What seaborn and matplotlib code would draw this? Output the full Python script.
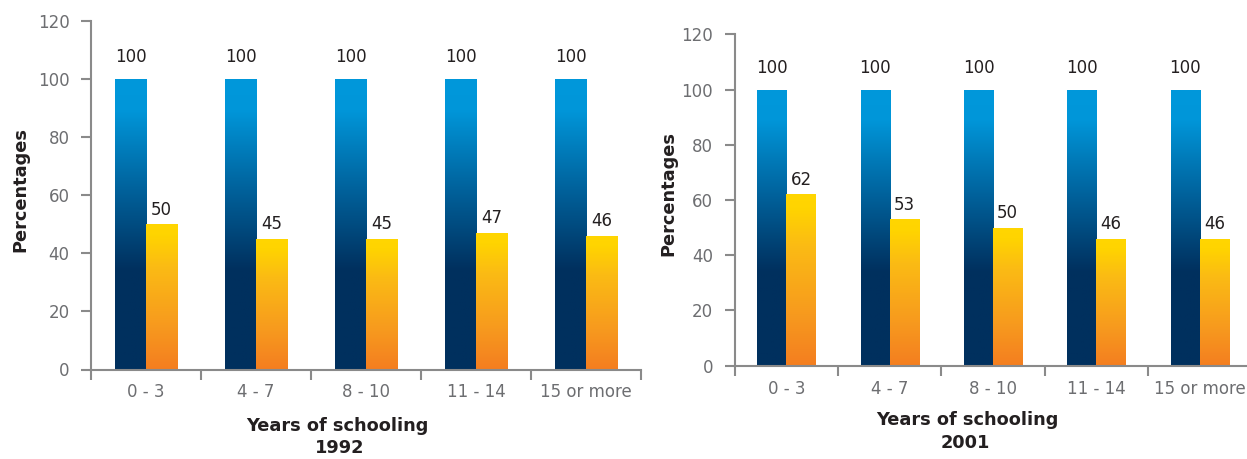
import numpy as np
import pandas as pd
import matplotlib
matplotlib.use("Agg")
import matplotlib.pyplot as plt
from matplotlib.colors import LinearSegmentedColormap
import seaborn as sns

# Data
categories = ["0 - 3", "4 - 7", "8 - 10", "11 - 14", "15 or more"]
base_1992 = [100, 100, 100, 100, 100]
ratio_1992 = [50, 45, 45, 47, 46]
base_2001 = [100, 100, 100, 100, 100]
ratio_2001 = [62, 53, 50, 46, 46]
yticks = [0, 20, 40, 60, 80, 100, 120]

sns.set_theme(style="white")
plt.rcParams["font.family"] = ["DejaVu Sans"]

GREY = "#6d6e71"
SPINE = "#8a8a8a"
DARK = "#231f20"

blue_cmap = LinearSegmentedColormap.from_list(
    "blue_bar", [(0.0, "#00305e"), (0.34, "#00305e"), (0.62, "#00629c"),
                 (0.89, "#0096d9"), (1.0, "#0098db")])
orange_cmap = LinearSegmentedColormap.from_list(
    "orange_bar", [(0.0, "#f47e20"), (0.3, "#f79a1e"), (0.7, "#fbbb14"),
                   (0.92, "#ffd400"), (1.0, "#ffd600")])


def make_frame(base, ratio):
    return pd.DataFrame({
        "category": categories * 2,
        "value": list(base) + list(ratio),
        "group": ["Base"] * len(categories) + ["Ratio"] * len(categories),
    })


def draw_panel(ax, base, ratio):
    df = make_frame(base, ratio)
    sns.barplot(data=df, x="category", y="value", hue="group",
                order=categories, hue_order=["Base", "Ratio"],
                palette=["#00305e", "#f47e20"], width=0.565,
                legend=False, ax=ax, saturation=1)

    # gradient fills clipped to each bar
    n = len(categories)
    for i, patch in enumerate(ax.patches[:2 * n]):
        cmap = blue_cmap if i < n else orange_cmap
        x0, y0 = patch.get_x(), patch.get_y()
        w, h = patch.get_width(), patch.get_height()
        grad = np.linspace(0, 1, 256).reshape(-1, 1)
        im = ax.imshow(grad, cmap=cmap, origin="lower", aspect="auto",
                       extent=[x0, x0 + w, y0, y0 + h], zorder=2)
        im.set_clip_path(patch)
        patch.set_facecolor("none")
        patch.set_edgecolor("none")
        offset = 9 if i < n else 4
        ax.annotate(f"{h:g}", (x0 + w / 2, h), xytext=(0, offset),
                    textcoords="offset points", ha="center", va="bottom",
                    fontsize=12, color=DARK)

    ax.set_xlim(-0.5, n - 0.5)
    ax.set_ylim(0, 120)
    ax.set_yticks(yticks)
    ax.set_yticklabels([str(t) for t in yticks], color=GREY, fontsize=12)
    ax.set_xticks(range(n))
    ax.set_xticklabels(categories, color=GREY, fontsize=12)
    ax.set_xticks(np.arange(-0.5, n, 1.0), minor=True)
    ax.tick_params(axis="x", which="major", length=0, pad=10)
    ax.tick_params(axis="x", which="minor", length=7, width=1.5,
                   color=SPINE, direction="out", bottom=True)
    ax.tick_params(axis="y", which="major", length=7, width=1.5,
                   color=SPINE, direction="out", left=True, pad=8.5)
    for side in ["top", "right"]:
        ax.spines[side].set_visible(False)
    for side in ["left", "bottom"]:
        ax.spines[side].set_color(SPINE)
        ax.spines[side].set_linewidth(1.5)
    ax.set_xlabel("")
    ax.set_ylabel("")
    return ax


fig = plt.figure(figsize=(12.47, 4.59), dpi=100)

ax1 = fig.add_axes([91 / 1247, 1 - 369.5 / 459, 550 / 1247, 348.8 / 459])
draw_panel(ax1, base_1992, ratio_1992)
ax2 = fig.add_axes([734.7 / 1247, 1 - 365.7 / 459, 516.7 / 1247, 331.4 / 459])
draw_panel(ax2, base_2001, ratio_2001)

label_kw = dict(fontsize=12.8, fontweight="bold", color=DARK,
                ha="center", va="center")
fig.text(20.7 / 1247, 1 - 189 / 459, "Percentages", rotation=90, **label_kw)
fig.text(668 / 1247, 1 - 194 / 459, "Percentages", rotation=90, **label_kw)
fig.text(337 / 1247, 1 - 426 / 459, "Years of schooling", **label_kw)
fig.text(340 / 1247, 1 - 448 / 459, "1992", **label_kw)
fig.text(967 / 1247, 1 - 420 / 459, "Years of schooling", **label_kw)
fig.text(965 / 1247, 1 - 443 / 459, "2001", **label_kw)

fig.savefig("out.png", dpi=100)
